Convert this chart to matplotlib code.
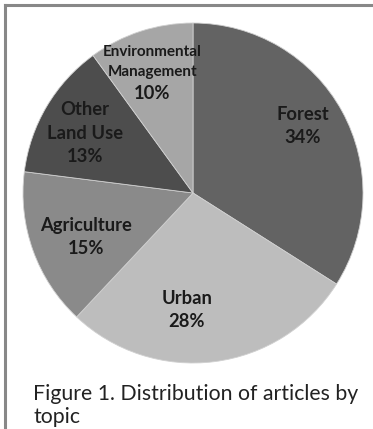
import numpy as np
import matplotlib.pyplot as plt

topics = ['Forest', 'Urban', 'Agriculture', 'Other\nLand Use', 'Environmental\nManagement']
shares = [34, 28, 15, 13, 10]
colors = ['#636363', '#bdbdbd', '#8a8a8a', '#4d4d4d', '#a6a6a6']

# label layout: angle tweak (deg) from slice middle, radius fraction, name font size
label_dang = [2.9, -10.2, 1.9, 1.3, 0.6]
label_r = [0.76, 0.68, 0.68, 0.73, 0.754]
name_size = [13.2, 13.2, 13.2, 13.2, 11]

W, H = 373, 429
fig = plt.figure(figsize=(W / 100, H / 100), dpi=100)
fig.patch.set_facecolor('white')

# frame (left and top edges visible)
fig.add_artist(plt.Line2D([4.5 / W, 4.5 / W], [0, 1 - 4.5 / H], transform=fig.transFigure,
                          color='#888888', lw=2.2))
fig.add_artist(plt.Line2D([4.5 / W, 1], [1 - 4.5 / H, 1 - 4.5 / H], transform=fig.transFigure,
                          color='#888888', lw=2.2))

cx, cy, R = 193, 193, 170
ax = fig.add_axes([(cx - R) / W, (H - cy - R) / H, 2 * R / W, 2 * R / H])
wedges, _ = ax.pie(shares, colors=colors, startangle=90, counterclock=False,
                   wedgeprops=dict(linewidth=0.6, edgecolor='#d0d0d0'))
ax.set_aspect('equal')
ax.set_xlim(-1, 1)
ax.set_ylim(-1, 1)

px = 72 / 100  # points per pixel
for w, name, v, da, r, fs in zip(wedges, topics, shares, label_dang, label_r, name_size):
    ang = np.deg2rad((w.theta1 + w.theta2) / 2 + da)
    x, y = r * np.cos(ang), r * np.sin(ang)
    lines = name.split('\n')
    step = 20 if fs < 12 else 24
    # block height: first cap line top down to percent baseline
    h = step * (len(lines) - 1) + 23 + fs
    ax.annotate(f'{v}%', (x, y), xytext=(0, -h / 2 * px), textcoords='offset points',
                ha='center', va='baseline', fontsize=13.2, fontweight='bold', family='Lato',
                color='#1a1a1a')
    yy = -h / 2 + 23
    for line in reversed(lines):
        ax.annotate(line, (x, y), xytext=(0, yy * px), textcoords='offset points',
                    ha='center', va='baseline', fontsize=fs, fontweight='bold', family='Lato',
                    color='#1a1a1a')
        yy += step

fig.text(33 / W, 1 - 400 / H, 'Figure 1. Distribution of articles by', ha='left', va='baseline',
         fontsize=15.3, family='Lato', color='#222222')
fig.text(33 / W, 1 - 423 / H, 'topic', ha='left', va='baseline',
         fontsize=15.3, family='Lato', color='#222222')

fig.savefig('out.png', dpi=100)
